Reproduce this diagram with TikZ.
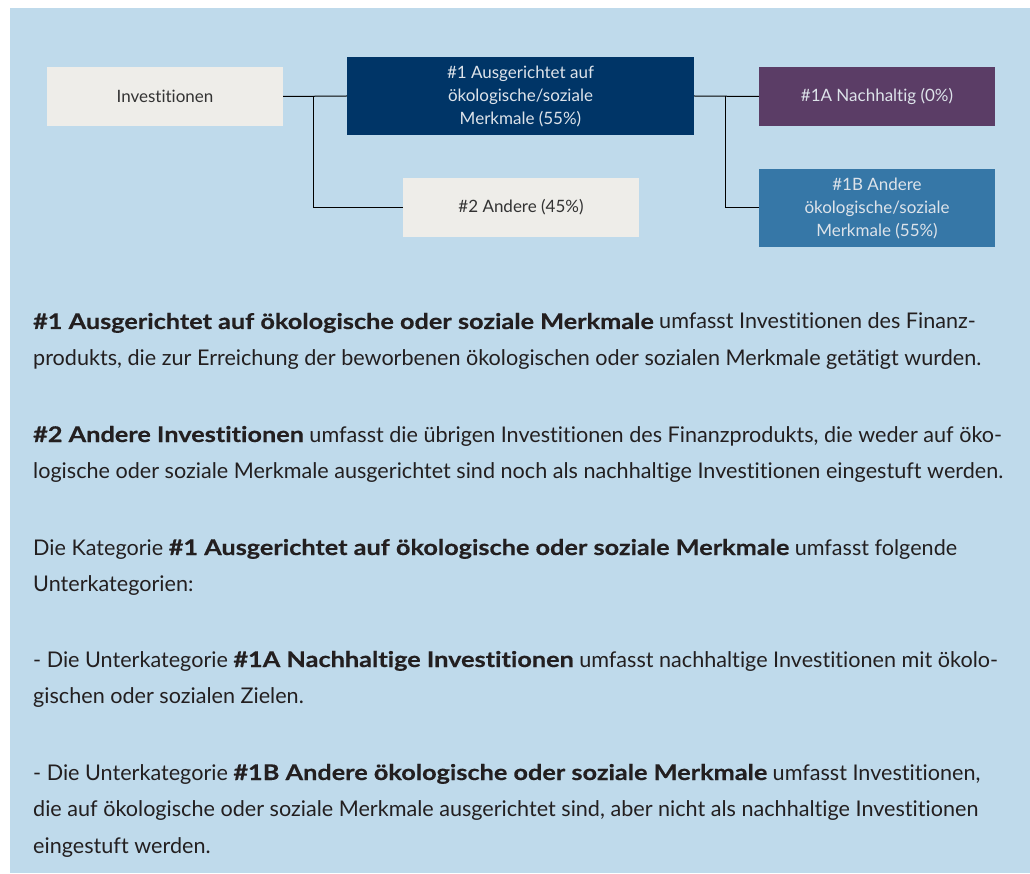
\documentclass[tikz,border=0pt]{standalone}
\usepackage{fontspec}
\setmainfont{Lato}[Ligatures={NoCommon}, BoldFeatures={FakeStretch=1.17,FakeBold=0.4}]
\usepackage{tikz}
\usetikzlibrary{positioning}
\definecolor{panel}{HTML}{BFDAEB}
\definecolor{boxgray}{HTML}{EEEDE9}
\definecolor{navy}{HTML}{003567}
\definecolor{plum}{HTML}{5B3D66}
\definecolor{steel}{HTML}{3677A7}
\definecolor{lighttext}{HTML}{DDE3EA}
\definecolor{darktext}{HTML}{231F20}
\tikzset{
  box/.style={minimum width=236pt, minimum height=59pt, inner sep=0pt, align=center,
    font=\fontsize{17}{23}\selectfont},
  graybox/.style={box, fill=boxgray, text=black!80},
  colbox/.style={box, text=lighttext},
  txt/.style={anchor=base west, inner sep=0pt, text=darktext,
    font=\fontsize{21.6}{36}\selectfont},
  link/.style={line width=1pt, black}
}
\begin{document}
\begin{tikzpicture}[x=1pt, y=-1pt]
		\useasboundingbox (0,0) rectangle (1030,874);
		\fill[white] (0,0) rectangle (1030,874);
		\fill[panel] (10,8) rectangle (1030,873);
		% Baum
		\node (inv) at (165,96.5) [graybox]{Investitionen};
		\node (m1) at (520.5,96) [colbox, fill=navy, minimum width=347pt, minimum height=78pt]{\#1 Ausgerichtet auf\\ökologische/soziale\\Merkmale (55\%)};
		\node (m2) at (521,207.5) [graybox]{\#2 Andere (45\%)};
		\node (m1a) at (877,96.5) [colbox, fill=plum]{\#1A Nachhaltig (0\%)};
		\node (m1b) at (877,208) [colbox, fill=steel, minimum height=78pt]{\#1B Andere\\ökologische/soziale\\Merkmale (55\%)};
		\coordinate (s1) at (313,96);
		\coordinate (s2) at (725,96);
		\draw [link](inv.east)--(m1.west); \draw [link](s1)|-(m2.west);
		\draw [link](m1.east)--(m1a.west); \draw [link](s2)|-(m1b.west);
		% Text
		\node (t1) at (33,329) [txt]{\textbf{\#1 Ausgerichtet auf ökologische oder soziale Merkmale} umfasst Investitionen des Finanz-};
		\node (t2) at (33,365) [txt]{produkts, die zur Erreichung der beworbenen ökologischen oder sozialen Merkmale getätigt wurden.};
		\node (t3) at (33,442) [txt]{\textbf{\#2 Andere Investitionen} umfasst die übrigen Investitionen des Finanzprodukts, die weder auf öko-};
		\node (t4) at (33,478) [txt]{logische oder soziale Merkmale ausgerichtet sind noch als nachhaltige Investitionen eingestuft werden.};
		\node (t5) at (33,555) [txt]{Die Kategorie \textbf{\#1 Ausgerichtet auf ökologische oder soziale Merkmale} umfasst folgende};
		\node (t6) at (33,591) [txt]{Unterkategorien:};
		\node (t7) at (33,667) [txt]{- Die Unterkategorie \textbf{\#1A Nachhaltige Investitionen} umfasst nachhaltige Investitionen mit ökolo-};
		\node (t8) at (33,703) [txt]{gischen oder sozialen Zielen.};
		\node (t9) at (33,780) [txt]{- Die Unterkategorie \textbf{\#1B Andere ökologische oder soziale Merkmale} umfasst Investitionen,};
		\node (t10) at (33,816) [txt]{die auf ökologische oder soziale Merkmale ausgerichtet sind, aber nicht als nachhaltige Investitionen};
		\node (t11) at (33,853) [txt]{eingestuft werden.};
\end{tikzpicture}
\end{document}
